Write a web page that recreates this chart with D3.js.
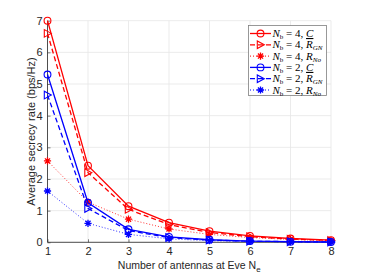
<!DOCTYPE html>
<html>
<head>
<meta charset="utf-8">
<script src="https://cdn.jsdelivr.net/npm/d3@7"></script>
<style>
  body { margin: 0; background: #fff; }
  svg { display: block; }
</style>
</head>
<body>
<svg id="chart" width="366" height="274"></svg>
<script>
const antennas = [1, 2, 3, 4, 5, 6, 7, 8];
const xTicks = [1, 2, 3, 4, 5, 6, 7, 8];
const yTicks = [0, 1, 2, 3, 4, 5, 6, 7];

const nb4C   = [7.0, 2.42, 1.14, 0.62, 0.35, 0.20, 0.12, 0.07];
const nb4RGN = [6.6, 2.2, 1.04, 0.56, 0.31, 0.18, 0.10, 0.06];
const nb4RNo = [2.57, 1.27, 0.73, 0.42, 0.25, 0.15, 0.09, 0.05];
const nb2C   = [5.3, 1.25, 0.41, 0.17, 0.08, 0.04, 0.02, 0.01];
const nb2RGN = [4.65, 1.07, 0.37, 0.15, 0.07, 0.035, 0.02, 0.01];
const nb2RNo = [1.62, 0.6, 0.25, 0.11, 0.05, 0.025, 0.012, 0.005];

const series = [
  { nb: 4, rate: "C", values: nb4C, color: "#ff0000", dash: null, marker: "circle" },
  { nb: 4, rate: "GN", values: nb4RGN, color: "#ff0000", dash: "5,3", marker: "triangle" },
  { nb: 4, rate: "No", values: nb4RNo, color: "#ff0000", dash: "1,2", marker: "star" },
  { nb: 2, rate: "C", values: nb2C, color: "#0000ff", dash: null, marker: "circle" },
  { nb: 2, rate: "GN", values: nb2RGN, color: "#0000ff", dash: "5,3", marker: "triangle" },
  { nb: 2, rate: "No", values: nb2RNo, color: "#0000ff", dash: "1,2", marker: "star" }
];

const svg = d3.select("#chart");
const margin = { left: 47.5, right: 35, top: 20.7, bottom: 31.7 };
const W = 366, H = 274;

const x = d3.scaleLinear().domain([1, 8]).range([margin.left, W - margin.right]);
const y = d3.scaleLinear().domain([0, 7]).range([H - margin.bottom, margin.top]);

// grid
svg.append("g").selectAll("line.gx").data(xTicks).join("line")
  .attr("x1", d => x(d)).attr("x2", d => x(d))
  .attr("y1", y(0)).attr("y2", y(7))
  .attr("stroke", "#e6e6e6").attr("stroke-width", 0.8);
svg.append("g").selectAll("line.gy").data(yTicks).join("line")
  .attr("x1", x(1)).attr("x2", x(8))
  .attr("y1", d => y(d)).attr("y2", d => y(d))
  .attr("stroke", "#e6e6e6").attr("stroke-width", 0.8);

// axes
const xAxis = svg.append("g").attr("transform", `translate(0,${y(0)})`)
  .call(d3.axisBottom(x).tickValues(xTicks).tickFormat(d3.format("d")).tickSize(-3).tickPadding(5));
const yAxis = svg.append("g").attr("transform", `translate(${x(1)},0)`)
  .call(d3.axisLeft(y).tickValues(yTicks).tickFormat(d3.format("d")).tickSize(-3).tickPadding(5));
[xAxis, yAxis].forEach(a => {
  a.select(".domain").attr("stroke", "#262626").attr("stroke-width", 0.8);
  a.selectAll(".tick line").attr("stroke", "#262626").attr("stroke-width", 0.6);
  a.selectAll(".tick text").attr("fill", "#262626")
    .style("font-family", "Liberation Sans, Arial, sans-serif").style("font-size", "11px");
});
yAxis.select(".domain").attr("d", `M0,${y(0)}V${y(7)}`);
xAxis.select(".domain").attr("d", `M${x(1)},0H${x(8)}`);

// labels
svg.append("text").attr("x", (x(1) + x(8)) / 2).attr("y", 268.5)
  .attr("text-anchor", "middle").attr("fill", "#262626")
  .style("font-family", "Liberation Sans, Arial, sans-serif").style("font-size", "10.5px")
  .text("Number of antennas at Eve N")
  .append("tspan").attr("dy", 3).style("font-size", "8px").text("e");
svg.append("text").attr("transform", `translate(34.5,${(y(0) + y(7)) / 2}) rotate(-90)`)
  .attr("text-anchor", "middle").attr("fill", "#262626")
  .style("font-family", "Liberation Sans, Arial, sans-serif").style("font-size", "11px")
  .text("Average secrecy rate (bps/Hz)");

function drawMarker(g, type, cx, cy, color) {
  if (type === "circle") {
    g.append("circle").attr("cx", cx).attr("cy", cy).attr("r", 3.4)
      .attr("fill", "none").attr("stroke", color).attr("stroke-width", 1.1);
  } else if (type === "triangle") {
    g.append("path").attr("d", `M${cx + 3.8},${cy}L${cx - 3.2},${cy - 3.8}L${cx - 3.2},${cy + 3.8}Z`)
      .attr("fill", "none").attr("stroke", color).attr("stroke-width", 1.1);
  } else {
    const r = 3.6;
    let d = "";
    [0, 45, 90, 135].forEach(a => {
      const t = a * Math.PI / 180;
      d += `M${cx - r * Math.cos(t)},${cy - r * Math.sin(t)}L${cx + r * Math.cos(t)},${cy + r * Math.sin(t)}`;
    });
    g.append("path").attr("d", d).attr("stroke", color).attr("stroke-width", 1.3);
  }
}

const line = d3.line().x((d, i) => x(antennas[i])).y(d => y(d));

series.forEach(s => {
  const g = svg.append("g");
  g.append("path").attr("d", line(s.values)).attr("fill", "none")
    .attr("stroke", s.color).attr("stroke-width", s.marker === "star" ? 1 : 1.3)
    .attr("stroke-dasharray", s.dash)
    .attr("opacity", s.marker === "star" ? 0.8 : 1);
  s.values.forEach((v, i) => drawMarker(g, s.marker, x(antennas[i]), y(v), s.color));
});

// legend
const lg = svg.append("g");
lg.append("rect").attr("x", 248.5).attr("y", 25.5).attr("width", 78).attr("height", 70)
  .attr("fill", "#fff").attr("stroke", "#7f7f7f").attr("stroke-width", 0.8);
series.forEach((s, i) => {
  const ly = 33.5 + i * 11.3;
  lg.append("line").attr("x1", 250).attr("x2", 271).attr("y1", ly).attr("y2", ly)
    .attr("stroke", s.color).attr("stroke-width", s.marker === "star" ? 1 : 1.3)
    .attr("stroke-dasharray", s.dash);
  drawMarker(lg, s.marker, 260.5, ly, s.color);
  const t = lg.append("text").attr("x", 272.5).attr("y", ly + 3.5)
    .style("font-family", "Liberation Serif, DejaVu Serif, serif").style("font-size", "11px")
    .attr("fill", "#000");
  t.append("tspan").style("font-style", "italic").text("N");
  t.append("tspan").attr("dy", 2).style("font-size", "7px").text("b");
  t.append("tspan").attr("dy", -2).text(` = ${s.nb}, `);
  if (s.rate === "C") {
    t.append("tspan").style("font-style", "italic").style("text-decoration", "underline").text("C");
  } else {
    t.append("tspan").style("font-style", "italic").text("R");
    t.append("tspan").attr("dy", 2).style("font-style", "italic").style("font-size", "7px").text(s.rate);
  }
});
</script>
</body>
</html>
